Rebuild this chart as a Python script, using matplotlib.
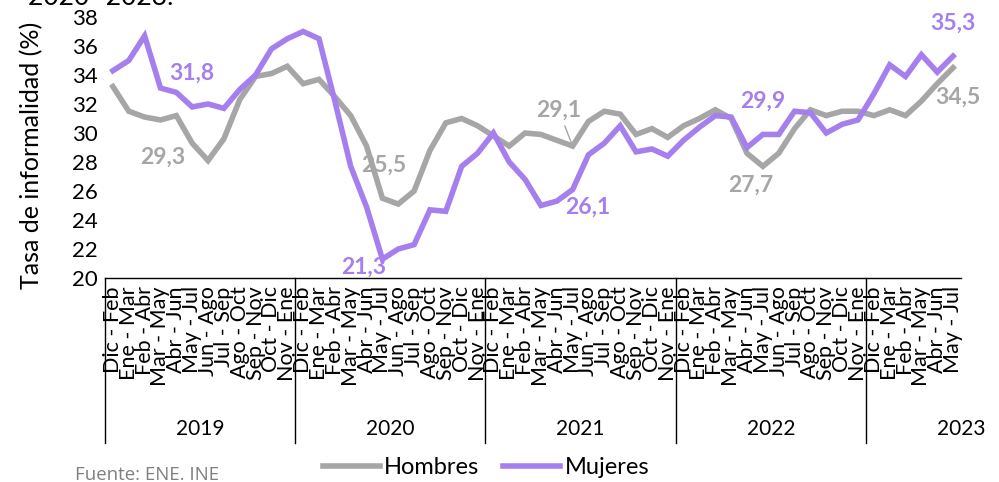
import matplotlib
matplotlib.use("Agg")
import matplotlib.pyplot as plt
from matplotlib.lines import Line2D

plt.rcParams['font.family'] = ['Lato', 'DejaVu Sans']

# rolling quarters, Dic-Feb 2019 .. May-Jul 2023
quarters = ["Dic - Feb", "Ene - Mar", "Feb - Abr", "Mar - May", "Abr - Jun", "May - Jul",
            "Jun - Ago", "Jul - Sep", "Ago - Oct", "Sep - Nov", "Oct - Dic", "Nov - Ene"]
years = ["2019", "2020", "2021", "2022", "2023"]
labels = quarters * 4 + quarters[:6]

hombres = [33.2, 31.5, 31.1, 30.9, 31.2, 29.3, 28.1, 29.6, 32.3, 33.9, 34.1, 34.6,
           33.4, 33.7, 32.5, 31.2, 29.1, 25.5, 25.1, 26.0, 28.8, 30.7, 31.0, 30.5,
           29.8, 29.1, 30.0, 29.9, 29.5, 29.1, 30.8, 31.5, 31.3, 29.9, 30.3, 29.7,
           30.5, 31.0, 31.6, 31.0, 28.6, 27.7, 28.6, 30.3, 31.6, 31.2, 31.5, 31.5,
           31.2, 31.6, 31.2, 32.2, 33.4, 34.5]
mujeres = [34.3, 35.0, 36.7, 33.1, 32.8, 31.8, 32.0, 31.7, 33.0, 34.0, 35.8, 36.5,
           37.0, 36.5, 32.2, 27.7, 24.9, 21.3, 22.0, 22.3, 24.7, 24.6, 27.7, 28.6,
           30.0, 28.0, 26.8, 25.0, 25.3, 26.1, 28.5, 29.3, 30.5, 28.7, 28.9, 28.4,
           29.5, 30.4, 31.2, 31.1, 29.0, 29.9, 29.9, 31.5, 31.4, 30.0, 30.6, 30.9,
           32.7, 34.7, 33.9, 35.4, 34.2, 35.3]

# points with value labels (May - Jul of each year)
lab_idx = [5, 17, 29, 41, 53]
off_h = [(-29, -14), (1, 33), (-14, 36), (-12, -19), (5, -29)]
off_m = [(0, 34), (-19, -8), (15, -18), (0, 33), (0, 33)]

c_h = "#A6A6A6"
c_m = "#A67FEF"

fig = plt.figure(figsize=(9.99, 4.82), dpi=100)
ax = fig.add_axes([105/999, 1 - 278/482, 856/999, 261/482])

x = [i + 0.5 for i in range(len(labels))]
ax.plot(x, hombres, color=c_h, lw=4, solid_joinstyle='miter')
ax.plot(x, mujeres, color=c_m, lw=4, solid_joinstyle='miter')

def fmt(v):
    return ("%.1f" % v).replace(".", ",")

for k, i in enumerate(lab_idx):
    if i == 29:
        ax.annotate(fmt(hombres[i]), (x[i], hombres[i]), xytext=off_h[k],
                    textcoords='offset pixels', ha='center', va='center',
                    fontsize=16.5, fontweight='bold', color=c_h,
                    arrowprops=dict(arrowstyle='-', color=c_h, lw=1, shrinkA=2, shrinkB=3))
    else:
        ax.annotate(fmt(hombres[i]), (x[i], hombres[i]), xytext=off_h[k],
                    textcoords='offset pixels', ha='center', va='center',
                    fontsize=16.5, fontweight='bold', color=c_h)
    ax.annotate(fmt(mujeres[i]), (x[i], mujeres[i]), xytext=off_m[k],
                textcoords='offset pixels', ha='center', va='center',
                fontsize=16.5, fontweight='bold', color=c_m)

ax.set_xlim(0, len(labels))
ax.set_ylim(20, 38)
ax.set_yticks(range(20, 39, 2))
ax.tick_params(axis='y', length=0, labelsize=16, pad=5)
ax.set_xticks(x)
ax.set_xticklabels(labels, rotation=90, fontsize=15.5, va='top', ha='center')
ax.tick_params(axis='x', length=0, pad=6)
for s in ['top', 'right', 'left']:
    ax.spines[s].set_visible(False)
ax.spines['bottom'].set_color('black')
ax.spines['bottom'].set_linewidth(1)
ax.set_ylabel("Tasa de informalidad (%)", fontsize=18, labelpad=4)
ax.yaxis.set_label_coords(-62/856, 0.47)

# year separators and labels
tr = ax.get_xaxis_transform()
for j in range(len(years)):
    ax.plot([j * 12, j * 12], [0, -0.632], color='black', lw=1, transform=tr, clip_on=False)
    ax.text(j * 12 + 6, -0.58, years[j], transform=tr, ha='center', va='center', fontsize=15)

handles = [Line2D([], [], color=c_h, lw=4), Line2D([], [], color=c_m, lw=4)]
fig.legend(handles, ["Hombres", "Mujeres"], loc='center', bbox_to_anchor=(486/999, 1 - 468/482),
           ncol=2, frameon=False, fontsize=17, handlelength=2.4, handletextpad=0.2,
           columnspacing=1.0)

fig.text(75/999, 1 - 475/482, "Fuente: ENE. INE", fontsize=13.4, color='#7F7F7F',
         ha='left', va='center', family=['Open Sans', 'DejaVu Sans'])
fig.text(28/999, 1 - 5/482, "2020- 2023.", fontsize=19, ha='left', va='baseline')

fig.savefig("out.png", dpi=100)
